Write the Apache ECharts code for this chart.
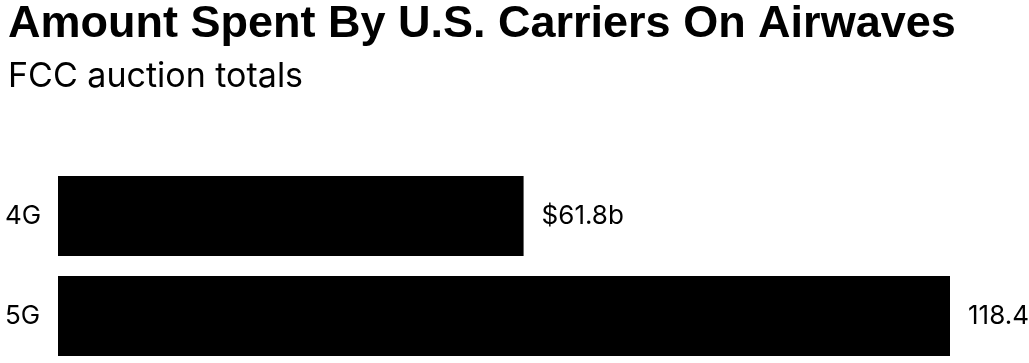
<!DOCTYPE html>
<html><head><meta charset="utf-8">
<script src="https://cdn.jsdelivr.net/npm/echarts@6/dist/echarts.min.js"></script>
<style>html,body{margin:0;padding:0;background:#fff}#c{width:1029px;height:363px}</style>
</head><body><div id="c"></div>
<script>
const categories = ['4G', '5G'];
const values = [61.8, 118.4];
const valueLabels = ['$61.8b', '118.4'];

const chart = echarts.init(document.getElementById('c'));
chart.setOption({
  animation: false,
  backgroundColor: '#fff',
  title: [
    {text: 'Amount Spent By U.S. Carriers On Airwaves', left: 3, top: -3,
     textStyle: {fontFamily: 'Liberation Sans', fontWeight: 'bold', fontSize: 45, color: '#000'}},
    {text: 'FCC auction totals', left: 3, top: 55,
     textStyle: {fontFamily: 'Inter', fontWeight: 'normal', fontSize: 34, color: '#000'}}
  ],
  grid: {left: 58, top: 166, width: 892, height: 200, containLabel: false, outerBoundsMode: 'none'},
  xAxis: {type: 'value', min: 0, max: 118.4, show: false},
  yAxis: {type: 'category', data: categories, inverse: true,
    axisLine: {show: false}, axisTick: {show: false},
    axisLabel: {align: 'left', margin: 53, fontFamily: 'Inter', fontSize: 26, color: '#000'}},
  series: [{
    type: 'bar', data: values, barWidth: 80,
    itemStyle: {color: '#000'},
    label: {show: true, position: 'right', distance: 18,
      fontFamily: 'Inter', fontSize: 26, color: '#000',
      formatter: p => valueLabels[p.dataIndex]}
  }]
});
</script></body></html>
